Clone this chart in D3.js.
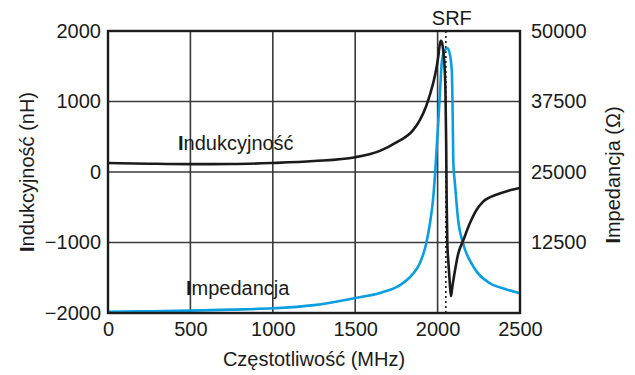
<!DOCTYPE html>
<html>
<head>
<meta charset="utf-8">
<script src="https://cdn.jsdelivr.net/npm/d3@7"></script>
<style>
  html, body { margin: 0; padding: 0; background: #fff; }
  svg { display: block; font-family: "Liberation Sans", Arial, sans-serif; }
</style>
</head>
<body>
<svg id="chart" width="635" height="375"></svg>
<script>
// Frequency sweep (MHz) and measured inductance (nH)
const freqL = [0, 250, 500, 750, 1000, 1250, 1500, 1650, 1750, 1850, 1893, 1930, 1954, 1984, 2005, 2012, 2019, 2026, 2034, 2042, 2048, 2052, 2055, 2059, 2066, 2074, 2081, 2090, 2106, 2126, 2154, 2197, 2237, 2275, 2360, 2430, 2500];
const inductance = [128, 118, 112, 113, 128, 155, 210, 300, 420, 590, 740, 930, 1100, 1370, 1650, 1790, 1862, 1840, 1730, 1500, 1100, 400, -400, -1000, -1300, -1580, -1760, -1620, -1390, -1150, -980, -720, -535, -425, -320, -265, -227];

// Frequency sweep (MHz) and impedance magnitude (Ω)
const freqZ = [0, 250, 500, 750, 1000, 1250, 1500, 1650, 1772, 1845, 1893, 1930, 1954, 1972, 1985, 2004, 2015, 2025, 2040, 2061, 2076, 2086, 2092, 2095, 2106, 2126, 2154, 2217, 2318, 2410, 2500];
const impedance = [230, 300, 420, 600, 830, 1400, 2650, 3550, 4950, 6750, 8860, 12200, 15960, 20000, 24800, 33700, 39500, 44300, 46400, 46950, 45600, 43090, 34220, 27130, 22700, 16130, 12410, 8210, 5270, 4250, 3490];

// Axis ticks
const xTicks = [0, 500, 1000, 1500, 2000, 2500];
const yLeftTicks = [2000, 1000, 0, -1000, -2000];
const yRightTicks = [50000, 37500, 25000, 12500];
const srfFreq = 2050;

const svg = d3.select("#chart");
const m = { left: 108, right: 520, top: 31, bottom: 313 };

const x = d3.scaleLinear().domain([0, 2500]).range([m.left, m.right]);
const yL = d3.scaleLinear().domain([-2000, 2000]).range([m.bottom, m.top]);
const yR = d3.scaleLinear().domain([0, 50000]).range([m.bottom, m.top]);

const ink = "#1b1b1b";
const fs = 20;

// grid lines
const grid = svg.append("g").attr("stroke", "#3a3a3a").attr("stroke-width", 1.6);
grid.selectAll("line.v").data(xTicks.filter(d => d > 0 && d < 2500)).join("line")
  .attr("x1", d => x(d)).attr("x2", d => x(d))
  .attr("y1", m.top).attr("y2", m.bottom);
grid.selectAll("line.h").data(yLeftTicks.filter(d => d > -2000 && d < 2000)).join("line")
  .attr("x1", m.left).attr("x2", m.right)
  .attr("y1", d => yL(d)).attr("y2", d => yL(d));

// SRF marker
svg.append("line")
  .attr("x1", x(srfFreq)).attr("x2", x(srfFreq))
  .attr("y1", m.top).attr("y2", m.bottom)
  .attr("stroke", ink).attr("stroke-width", 1.6)
  .attr("stroke-dasharray", "2,3");
svg.append("text")
  .attr("x", x(srfFreq) + 6).attr("y", 25)
  .attr("text-anchor", "middle").attr("font-size", fs).attr("fill", ink)
  .text("SRF");

svg.append("clipPath").attr("id", "plot").append("rect")
  .attr("x", m.left).attr("y", m.top)
  .attr("width", m.right - m.left).attr("height", m.bottom - m.top);

const curves = svg.append("g").attr("clip-path", "url(#plot)");

// impedance curve
curves.append("path")
  .datum(freqZ.map((f, i) => [f, impedance[i]]))
  .attr("fill", "none").attr("stroke", "#0a9de0").attr("stroke-width", 2.6)
  .attr("stroke-linejoin", "round")
  .attr("d", d3.line().x(d => x(d[0])).y(d => yR(d[1])).curve(d3.curveMonotoneX));

// inductance curve
curves.append("path")
  .datum(freqL.map((f, i) => [f, inductance[i]]))
  .attr("fill", "none").attr("stroke", ink).attr("stroke-width", 2.6)
  .attr("stroke-linejoin", "round")
  .attr("d", d3.line().x(d => x(d[0])).y(d => yL(d[1])).curve(d3.curveMonotoneX));

// plot frame
svg.append("rect")
  .attr("x", m.left).attr("y", m.top)
  .attr("width", m.right - m.left).attr("height", m.bottom - m.top)
  .attr("fill", "none").attr("stroke", ink).attr("stroke-width", 2.4);

// axes
const fmt = d3.format("d");
function styleAxis(g) {
  g.select(".domain").remove();
  g.selectAll(".tick line").remove();
  g.selectAll("text").attr("font-size", fs).attr("fill", ink)
    .attr("font-family", "Liberation Sans, Arial, sans-serif");
}
svg.append("g").attr("transform", `translate(${m.left},0)`)
  .call(d3.axisLeft(yL).tickValues(yLeftTicks).tickSize(0).tickPadding(7).tickFormat(fmt))
  .call(styleAxis);
svg.append("g").attr("transform", `translate(${m.right},0)`)
  .call(d3.axisRight(yR).tickValues(yRightTicks).tickSize(0).tickPadding(11).tickFormat(fmt))
  .call(styleAxis);
svg.append("g").attr("transform", `translate(0,${m.bottom})`)
  .call(d3.axisBottom(x).tickValues(xTicks).tickSize(0).tickPadding(9).tickFormat(fmt))
  .call(styleAxis);

// axis titles
function boldInitial(sel, rest) {
  sel.append("tspan").attr("font-weight", "bold").text("I");
  sel.append("tspan").text(rest);
}
svg.append("text")
  .attr("transform", `translate(34,172) rotate(-90)`)
  .attr("text-anchor", "middle").attr("font-size", fs).attr("fill", ink)
  .call(boldInitial, "ndukcyjność (nH)");
svg.append("text")
  .attr("transform", `translate(620,175) rotate(-90)`)
  .attr("text-anchor", "middle").attr("font-size", fs).attr("fill", ink)
  .call(boldInitial, "mpedancja (Ω)");
svg.append("text")
  .attr("x", (m.left + m.right) / 2).attr("y", 366)
  .attr("text-anchor", "middle").attr("font-size", fs).attr("fill", ink)
  .text("Częstotliwość (MHz)");

// series labels
svg.append("text").attr("x", 178).attr("y", 150)
  .attr("font-size", fs).attr("fill", ink)
  .call(boldInitial, "ndukcyjność");
svg.append("text").attr("x", 186).attr("y", 295)
  .attr("font-size", fs).attr("fill", ink)
  .call(boldInitial, "mpedancja");
</script>
</body>
</html>
